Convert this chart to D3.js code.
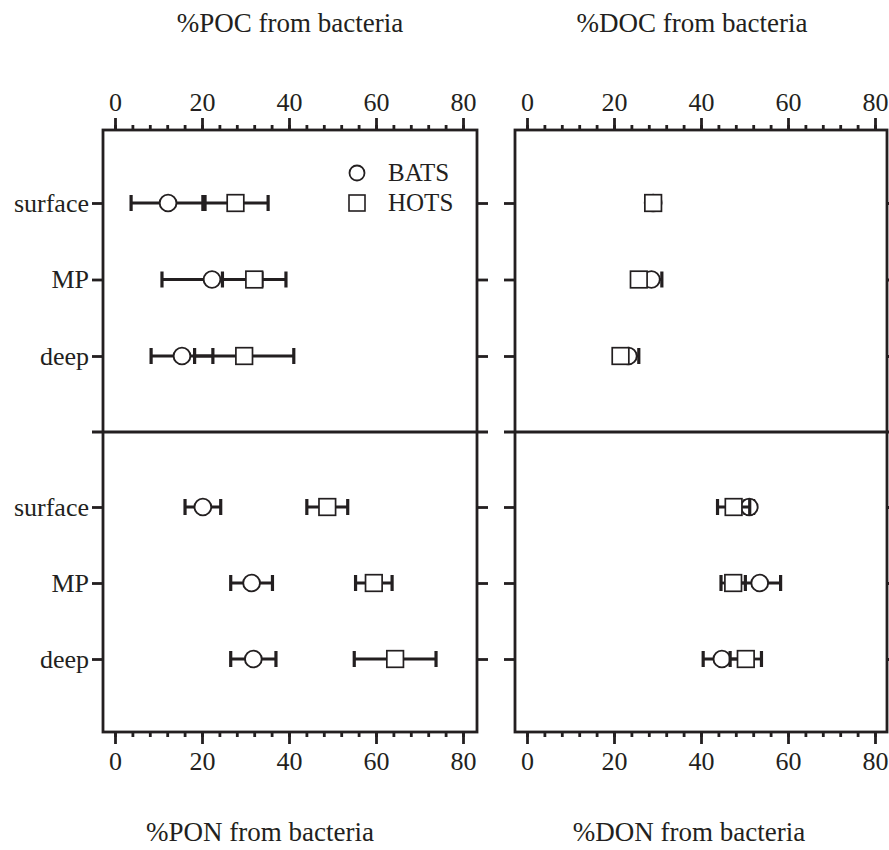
<!DOCTYPE html>
<html>
<head>
<meta charset="utf-8">
<script src="https://d3js.org/d3.v7.min.js"></script>
<style>
  body { margin: 0; padding: 0; background: #fff; }
  svg { display: block; }
  text { font-family: "Liberation Serif", "Times New Roman", serif; fill: #231f20; }
</style>
</head>
<body>
<div id="chart"></div>
<script>
// depth categories (rows)
const depths = ["surface", "MP", "deep"];

// values: mean and half-width of the error bar
const pocBats = [12.2, 22.3, 15.4], pocBatsErr = [8.5, 11.5, 7.1];
const pocHots = [27.7, 32.0, 29.7], pocHotsErr = [7.5, 7.3, 11.4];
const docBats = [29.0, 28.6, 23.3], docBatsErr = [1.0, 2.4, 2.4];
const docHots = [29.0, 25.7, 21.5], docHotsErr = [1.0, 1.0, 1.0];
const ponBats = [20.2, 31.4, 31.8], ponBatsErr = [4.1, 4.8, 5.2];
const ponHots = [48.8, 59.5, 64.4], ponHotsErr = [4.7, 4.2, 9.4];
const donBats = [51.1, 53.5, 44.8], donBatsErr = [1.0, 4.8, 4.3];
const donHots = [47.5, 47.4, 50.3], donHotsErr = [3.7, 2.8, 3.6];

const majorTicks = [0, 20, 40, 60, 80];
const minorTicks = d3.range(0, 81, 4);

const ink = "#231f20";
const W = 889, H = 850;
const serif = "Liberation Serif";

const svg = d3.select("#chart").append("svg")
  .attr("width", W).attr("height", H);

// panel geometry
const top0 = 130, mid = 432, bot = 732;
const panels = [
  { frameL: 103, frameR: 477, x0: 115, x1: 463, labels: true,
    topTitle: "%POC from bacteria", topTitleX: 290,
    botTitle: "%PON from bacteria", botTitleX: 260,
    upper: [[pocBats, pocBatsErr], [pocHots, pocHotsErr]],
    lower: [[ponBats, ponBatsErr], [ponHots, ponHotsErr]] },
  { frameL: 515, frameR: 887, x0: 527, x1: 875, labels: false,
    topTitle: "%DOC from bacteria", topTitleX: 692,
    botTitle: "%DON from bacteria", botTitleX: 689,
    upper: [[docBats, docBatsErr], [docHots, docHotsErr]],
    lower: [[donBats, donBatsErr], [donHots, donHotsErr]] }
];

const tickLen = 12, minorLen = 5, yTickLen = 11;

function drawSeries(g, x, y, means, errs, shape) {
  const rows = depths.map((d, i) => ({ d, m: means[i], e: errs[i] }));
  const capH = 8;
  rows.forEach(r => {
    const yy = y(r.d);
    g.append("line")
      .attr("x1", x(r.m - r.e)).attr("x2", x(r.m + r.e))
      .attr("y1", yy).attr("y2", yy)
      .attr("stroke", ink).attr("stroke-width", 2.8);
    [r.m - r.e, r.m + r.e].forEach(v => {
      g.append("line")
        .attr("x1", x(v)).attr("x2", x(v))
        .attr("y1", yy - capH).attr("y2", yy + capH)
        .attr("stroke", ink).attr("stroke-width", 3.2);
    });
  });
  rows.forEach(r => {
    const yy = y(r.d);
    if (shape === "circle") {
      g.append("circle")
        .attr("cx", x(r.m)).attr("cy", yy).attr("r", 8.4)
        .attr("fill", "#fff").attr("stroke", ink).attr("stroke-width", 1.9);
    } else {
      g.append("rect")
        .attr("x", x(r.m) - 8.3).attr("y", yy - 8.3)
        .attr("width", 16.6).attr("height", 16.6)
        .attr("fill", "#fff").attr("stroke", ink).attr("stroke-width", 1.7);
    }
  });
}

panels.forEach(p => {
  const g = svg.append("g");
  const x = d3.scaleLinear().domain([0, 80]).range([p.x0, p.x1]);
  const yUp = d3.scalePoint().domain(depths).range([top0 + 73, top0 + 226]);
  const yLo = d3.scalePoint().domain(depths).range([mid + 75, mid + 227]);

  // frame
  g.append("rect")
    .attr("x", p.frameL).attr("y", top0)
    .attr("width", p.frameR - p.frameL).attr("height", bot - top0)
    .attr("fill", "none").attr("stroke", ink).attr("stroke-width", 2.8);
  // divider between the two rows, running out past the frame
  g.append("line")
    .attr("x1", p.frameL - yTickLen).attr("x2", p.frameR + yTickLen)
    .attr("y1", mid).attr("y2", mid)
    .attr("stroke", ink).attr("stroke-width", 2.8);

  // x axes (top and bottom) with minor ticks
  const topMinor = g.append("g").attr("transform", `translate(0,${top0})`)
    .call(d3.axisTop(x).tickValues(minorTicks).tickSize(minorLen).tickFormat(""));
  const topMajor = g.append("g").attr("transform", `translate(0,${top0})`)
    .call(d3.axisTop(x).tickValues(majorTicks).tickSize(tickLen).tickPadding(7).tickFormat(d3.format("d")));
  const botMinor = g.append("g").attr("transform", `translate(0,${bot})`)
    .call(d3.axisBottom(x).tickValues(minorTicks).tickSize(minorLen).tickFormat(""));
  const botMajor = g.append("g").attr("transform", `translate(0,${bot})`)
    .call(d3.axisBottom(x).tickValues(majorTicks).tickSize(tickLen).tickPadding(8).tickFormat(d3.format("d")));
  [topMinor, topMajor, botMinor, botMajor].forEach(a => {
    a.attr("font-family", serif);
    a.select(".domain").remove();
    a.selectAll(".tick line").attr("stroke", ink).attr("stroke-width", 2.8);
    a.selectAll(".tick text").style("font-family", serif)
      .style("font-size", "26px").attr("fill", ink);
  });

  // y ticks on both sides of both rows
  [yUp, yLo].forEach(y => {
    const left = g.append("g").attr("transform", `translate(${p.frameL},0)`)
      .call(d3.axisLeft(y).tickSize(yTickLen).tickPadding(3)
        .tickFormat(p.labels ? d => d : ""));
    const right = g.append("g").attr("transform", `translate(${p.frameR},0)`)
      .call(d3.axisRight(y).tickSize(yTickLen).tickFormat(""));
    [left, right].forEach(a => {
      a.attr("font-family", serif);
      a.select(".domain").remove();
      a.selectAll(".tick line").attr("stroke", ink).attr("stroke-width", 2.8);
      a.selectAll(".tick text").style("font-family", serif)
        .style("font-size", "26px").attr("fill", ink);
    });
  });

  // data
  drawSeries(g, x, yUp, p.upper[0][0], p.upper[0][1], "circle");
  drawSeries(g, x, yUp, p.upper[1][0], p.upper[1][1], "square");
  drawSeries(g, x, yLo, p.lower[0][0], p.lower[0][1], "circle");
  drawSeries(g, x, yLo, p.lower[1][0], p.lower[1][1], "square");

  // titles
  g.append("text").attr("x", p.topTitleX).attr("y", 32)
    .attr("text-anchor", "middle").style("font-family", serif)
    .style("font-size", "27px").text(p.topTitle);
  g.append("text").attr("x", p.botTitleX).attr("y", 841)
    .attr("text-anchor", "middle").style("font-family", serif)
    .style("font-size", "27px").text(p.botTitle);
});

// legend
const legend = svg.append("g").attr("transform", "translate(357,173)");
legend.append("circle").attr("cx", 0).attr("cy", 0).attr("r", 7.5)
  .attr("fill", "#fff").attr("stroke", ink).attr("stroke-width", 1.8);
legend.append("text").attr("x", 31).attr("y", 8).style("font-family", serif)
  .style("font-size", "25px").text("BATS");
legend.append("rect").attr("x", -8).attr("y", 22).attr("width", 16).attr("height", 16)
  .attr("fill", "#fff").attr("stroke", ink).attr("stroke-width", 1.6);
legend.append("text").attr("x", 31).attr("y", 38).style("font-family", serif)
  .style("font-size", "25px").text("HOTS");
</script>
</body>
</html>
